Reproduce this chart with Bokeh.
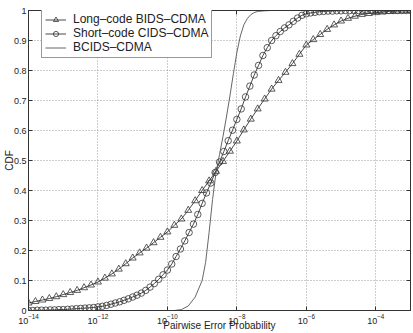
import numpy as np
from bokeh.plotting import figure
from bokeh.models import (Range1d, FixedTicker, LogAxis, LinearAxis,
                          Legend, LegendItem)
from bokeh.embed import file_html
from bokeh.resources import INLINE

# Long-code BIDS-CDMA: CDF sampled every 0.2 decade from 1e-14 to 1e-3
long_exp = np.round(np.arange(-14.0, -2.99, 0.2), 3)
long_cdf = [0.025, 0.030, 0.035, 0.040, 0.046, 0.053, 0.060, 0.067, 0.076, 0.085,
            0.095, 0.108, 0.122, 0.138, 0.156, 0.175, 0.192, 0.208, 0.226, 0.244,
            0.262, 0.284, 0.305, 0.334, 0.366, 0.400, 0.432, 0.464, 0.497, 0.531,
            0.565, 0.602, 0.638, 0.672, 0.705, 0.738, 0.767, 0.794, 0.823, 0.854,
            0.885, 0.903, 0.920, 0.937, 0.952, 0.965, 0.974, 0.981, 0.987, 0.990,
            0.993, 0.995, 0.997, 0.998, 0.999, 1.000]

# Short-code CIDS-CDMA: CDF sampled every 0.125 decade from 1e-14 to 1e-3
short_exp = np.round(np.arange(-14.0, -2.99, 0.125), 3)
short_cdf = [0.000, 0.000, 0.001, 0.001, 0.001, 0.002, 0.002, 0.003, 0.003, 0.004,
             0.005, 0.006, 0.007, 0.008, 0.009, 0.010, 0.012, 0.014, 0.017, 0.021,
             0.025, 0.029, 0.034, 0.039, 0.045, 0.051, 0.058, 0.067, 0.078, 0.090,
             0.104, 0.119, 0.135, 0.155, 0.180, 0.205, 0.232, 0.260, 0.288, 0.320,
             0.357, 0.392, 0.425, 0.460, 0.495, 0.530, 0.566, 0.601, 0.637, 0.672,
             0.712, 0.748, 0.785, 0.817, 0.850, 0.876, 0.900, 0.916, 0.930, 0.942,
             0.952, 0.964, 0.975, 0.984, 0.989, 0.992, 0.994, 0.996, 0.997, 0.998,
             0.998, 0.999, 0.999, 1.000, 1.000, 1.000, 1.000, 1.000, 1.000, 1.000,
             1.000, 1.000, 1.000, 1.000, 1.000, 1.000, 1.000, 1.000, 1.000]

# BCIDS-CDMA: steep CDF (solid line, no markers)
bc_exp = [-14.0, -10.0, -9.8, -9.6, -9.4, -9.2, -9.0, -8.9, -8.8, -8.7, -8.6, -8.5,
          -8.4, -8.3, -8.2, -8.1, -8.0, -7.9, -7.8, -7.7, -7.6, -7.5, -7.4, -7.2,
          -7.0, -3.0]
bc_cdf = [0.0, 0.0, 0.0, 0.003, 0.015, 0.045, 0.10, 0.16, 0.26, 0.37, 0.46, 0.52,
          0.58, 0.645, 0.715, 0.79, 0.86, 0.915, 0.952, 0.973, 0.986, 0.993, 0.997,
          0.999, 1.0, 1.0]

legend_labels = ["Long\u2013code BIDS\u2013CDMA", "Short\u2013code CIDS\u2013CDMA", "BCIDS\u2013CDMA"]
x_tick_values = [1e-14, 1e-12, 1e-10, 1e-8, 1e-6, 1e-4]
y_tick_values = [0.0, 0.1, 0.2, 0.3, 0.4, 0.5, 0.6, 0.7, 0.8, 0.9, 1.0]
y_tick_labels = ["0", "0.1", "0.2", "0.3", "0.4", "0.5", "0.6", "0.7", "0.8", "0.9", "1"]

FONT = "Liberation Sans"
INK = "#333333"

p = figure(width=413, height=333, output_backend="svg", toolbar_location=None,
           x_axis_type="log", x_range=Range1d(1e-14, 1e-3), y_range=Range1d(0, 1),
           min_border_left=0, min_border_right=3, min_border_top=10,
           min_border_bottom=0,
           x_axis_label="Pairwise Error Probability", y_axis_label="CDF")
p.background_fill_color = "white"
p.border_fill_color = "white"
p.outline_line_color = INK
p.outline_line_width = 1

# axes: ticks inside, MATLAB style
for ax in (p.xaxis[0], p.yaxis[0]):
    ax.major_tick_in = 4
    ax.major_tick_out = 0
    ax.minor_tick_in = 0
    ax.minor_tick_out = 0
    ax.axis_line_color = INK
    ax.major_tick_line_color = INK
    ax.major_label_text_font = FONT
    ax.major_label_text_font_size = "9px"
    ax.major_label_text_color = "#222222"
    ax.axis_label_text_font = FONT
    ax.axis_label_text_font_size = "10px"
    ax.axis_label_text_font_style = "normal"
    ax.axis_label_text_color = "#222222"

p.xaxis.major_label_standoff = 3
p.xaxis.axis_label_standoff = -7
p.yaxis.major_label_standoff = 2
p.yaxis.axis_label_standoff = -4

p.xaxis.ticker = FixedTicker(ticks=x_tick_values)
p.yaxis.ticker = FixedTicker(ticks=y_tick_values)
p.yaxis.major_label_overrides = {v: s for v, s in zip(y_tick_values, y_tick_labels)}

# tick marks on the top and right edges of the box, without labels
top_axis = LogAxis(ticker=FixedTicker(ticks=x_tick_values), major_tick_in=4,
                   major_tick_out=0, minor_tick_in=0, minor_tick_out=0,
                   major_label_text_alpha=0, major_label_standoff=0,
                   major_label_text_font_size="1px",
                   axis_line_color=INK, major_tick_line_color=INK)
right_axis = LinearAxis(ticker=FixedTicker(ticks=y_tick_values), major_tick_in=4,
                        major_tick_out=0, minor_tick_in=0, minor_tick_out=0,
                        major_label_text_alpha=0, major_label_standoff=0,
                        major_label_text_font_size="1px",
                        axis_line_color=INK, major_tick_line_color=INK)
p.add_layout(top_axis, "above")
p.add_layout(right_axis, "right")

p.xgrid.ticker = FixedTicker(ticks=x_tick_values)
p.ygrid.ticker = FixedTicker(ticks=y_tick_values)
p.grid.grid_line_color = "#9a9a9a"
p.grid.grid_line_dash = "1 2"
p.grid.grid_line_width = 1

lx = [10.0 ** e for e in long_exp]
sx = [10.0 ** e for e in short_exp]
bx = [10.0 ** e for e in bc_exp]

r1l = p.line(lx, long_cdf, line_color=INK, line_width=0.9)
r1m = p.scatter(lx, long_cdf, marker="triangle", size=7, fill_color=None,
                line_color=INK, line_width=0.8)
r2l = p.line(sx, short_cdf, line_color=INK, line_width=0.9)
r2m = p.scatter(sx, short_cdf, marker="circle", size=6.5, fill_color=None,
                line_color=INK, line_width=0.8)
r3 = p.line(bx, bc_cdf, line_color="#555555", line_width=0.9)

legend = Legend(items=[LegendItem(label=legend_labels[0], renderers=[r1l, r1m]),
                       LegendItem(label=legend_labels[1], renderers=[r2l, r2m]),
                       LegendItem(label=legend_labels[2], renderers=[r3])],
                location=(13, 252))
legend.margin = 0
legend.border_line_color = INK
legend.border_line_width = 1
legend.background_fill_alpha = 1
legend.label_text_font = FONT
legend.label_text_font_size = "12px"
legend.label_text_color = "#222222"
legend.glyph_width = 21
legend.glyph_height = 13
legend.label_height = 13
legend.label_standoff = 7
legend.spacing = 0
legend.padding = 3
p.add_layout(legend, "center")

open("out.html", "w").write(file_html(p, INLINE))
